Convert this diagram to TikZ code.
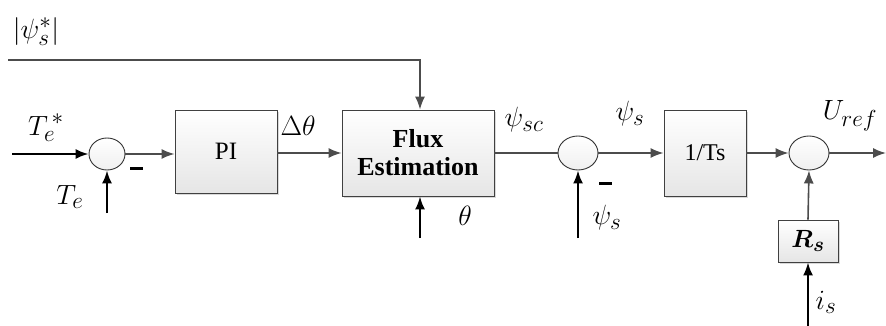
\documentclass[tikz,border=0pt]{standalone}
\usepackage{amsmath}
\usepackage{bm}
\usepackage{fontspec}
\setmainfont{Liberation Serif}
\usetikzlibrary{arrows.meta,shapes.geometric,shadows}
\newcommand{\biglab}[1]{\scalebox{1.12}{$#1$}}
\begin{document}
\begin{tikzpicture}[x=1pt,y=-1pt,
  blk/.style={draw=black!75,line width=0.9pt,top color=white,bottom color=black!10,
    drop shadow={shadow xshift=2pt,shadow yshift=-2pt,fill=black!25,opacity=0.6},inner sep=0pt},
  sumn/.style={ellipse,draw=black!80,line width=0.9pt,top color=white,bottom color=black!6,
    minimum width=36pt,minimum height=32pt,inner sep=0pt},
  wire/.style={draw=black!70,line width=1.6pt},
  inwire/.style={draw=black,line width=2pt},
  tip/.style={-{Latex[length=13pt,width=10pt]}},
  lbl/.style={font=\fontsize{24.88}{30}\selectfont,inner sep=0pt},
  minus/.style={fill=black,minimum width=13pt,minimum height=3pt,inner sep=0pt}
]
\useasboundingbox (0,0) rectangle (886,326);
% blocks
\node[blk,minimum width=102pt,minimum height=83pt,font=\fontsize{25}{28}\selectfont] (pi) at (226,151.5) {PI};
\node[blk,minimum width=152pt,minimum height=86pt,align=center,font=\fontsize{26}{28}\selectfont\bfseries] (fe) at (418,153) {Flux\\Estimation};
\node[blk,minimum width=82pt,minimum height=86pt,font=\fontsize{24}{28}\selectfont] (ts) at (705,153) {1/Ts};
\node[blk,minimum width=60pt,minimum height=42pt,font=\fontsize{24.88}{26}\selectfont] (rs) at (808,241) {$\bm{R_s}$};
% sums
\node[sumn] (s1) at (107,154) {};
\node[sumn,minimum width=40pt,minimum height=34pt] (s2) at (578,153) {};
\node[sumn,minimum width=40pt,minimum height=34pt] (s3) at (809,153) {};
% coordinates
\coordinate (in1) at (12,154);
\coordinate (in2) at (107,213);
\coordinate (th) at (420,238);
\coordinate (psb) at (578,238);
\coordinate (isb) at (808,326);
\coordinate (out) at (886,153);
\coordinate (ref) at (8,60);
\coordinate (refc) at (420,60);
% connectors
\draw[inwire,tip] (in1) -- (s1.west);
\draw[inwire,tip] (in2) -- (s1.south);
\draw[wire,tip] (s1.east) -- (pi.west |- s1.east);
\draw[wire,tip] (pi.east |- fe.west) -- (fe.west);
\draw[wire,tip] (ref) -- (refc) -- (refc |- fe.north);
\draw[inwire,tip] (th) -- (th |- fe.south);
\draw[wire] (fe.east) -- (s2.west);
\draw[inwire,tip] (psb) -- (s2.south);
\draw[wire,tip] (s2.east) -- (ts.west);
\draw[wire,tip] (ts.east) -- (s3.west);
\draw[wire,tip] (s3.east) -- (out);
\draw[wire,tip] (rs.north) -- (s3.south);
\draw[inwire,tip] (isb) -- (rs.south);
% labels
\node[lbl] (lref) at (36,32) {\biglab{\left|\psi_s^{*}\right|}};
\node[lbl] (lte1) at (46,128) {\biglab{T_e^{\,*}}};
\node[lbl] (lte2) at (70,197) {\biglab{T_e}};
\node[minus] (m1) at (136,168) {};
\node[lbl] (ldt) at (298,126) {\biglab{\Delta\theta}};
\node[lbl] (lth) at (465,216) {\biglab{\theta}};
\node[lbl] (lpsc) at (524,120) {\biglab{\psi_{sc}}};
\node[lbl] (lps1) at (630,114) {\biglab{\psi_s}};
\node[minus] (m2) at (605,183) {};
\node[lbl] (lps2) at (607,218) {\biglab{\psi_s}};
\node[lbl] (lu) at (850,116) {\biglab{U_{ref}}};
\node[lbl] (lis) at (826,302) {\biglab{i_s}};
\end{tikzpicture}
\end{document}
